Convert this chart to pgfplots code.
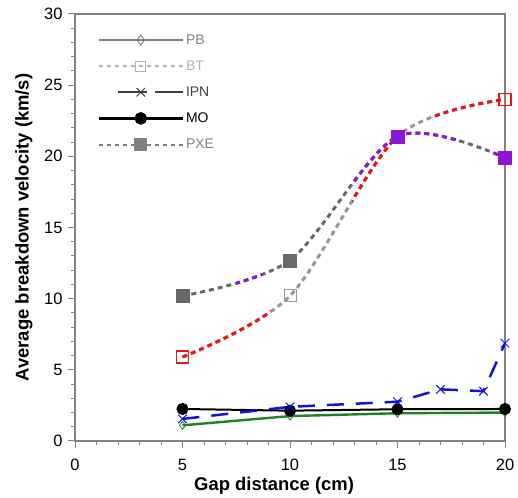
\documentclass[border=0pt]{standalone}
\usepackage{fontspec}
\setmainfont{Liberation Sans}
\usepackage{pgfplots}
\pgfplotsset{compat=1.18}
\definecolor{axgray}{RGB}{130,130,130}
\definecolor{btgray}{RGB}{150,150,150}
\definecolor{pxegray}{RGB}{105,105,105}
\definecolor{myred}{RGB}{235,20,20}
\definecolor{mypurple}{RGB}{140,20,210}
\definecolor{myblue}{RGB}{20,20,210}
\definecolor{mygreen}{RGB}{30,130,40}
\begin{document}
\begin{tikzpicture}
\begin{axis}[
  name=ax,
  scale only axis, width=430bp, height=427bp,
  xmin=0, xmax=20, ymin=0, ymax=30,
  xtick={0,5,...,20}, ytick={0,5,...,30},
  minor x tick num=4, minor y tick num=4,
  tick align=outside, tick pos=left,
  major tick length=7bp, minor tick length=4bp,
  axis line style={axgray, line width=1.5bp},
  every tick/.style={axgray, line width=1bp},
  tick label style={font=\fontsize{16.5}{19}\selectfont},
  xticklabel style={yshift=-8bp},
  yticklabel style={xshift=-2bp},
  /pgf/number format/assume math mode=true,
  xlabel={Gap distance (cm)},
  ylabel={Average breakdown velocity (km/s)},
  label style={font=\fontsize{18.5}{21}\selectfont\bfseries},
  xlabel style={at={(axis description cs:0.463,-0.1054)}, anchor=center},
  ylabel style={at={(axis description cs:-0.1186,0.5)}, anchor=center},
  legend style={draw=none, fill=none, at={(axis cs:0.9,28.85)}, anchor=north west,
    font=\fontsize{14}{16}\selectfont, row sep=11bp},
  legend cell align=left,
  legend image code/.code={\draw[mark repeat=2,mark phase=2,#1] plot coordinates {(0bp,0bp) (42bp,0bp) (84bp,0bp)};},
]
% legend entries (gray styles)
\addlegendimage{color=gray, line width=2bp, mark=diamond, mark size=5bp, mark options={fill=white, line width=1bp}}
\addlegendentry{\textcolor{gray}{PB}}
\addlegendimage{color=lightgray!80!gray, line width=2bp, dash pattern=on 4bp off 4bp, mark=square, mark size=5bp, mark options={solid, fill=white, line width=1bp}}
\addlegendentry{\textcolor{lightgray!80!gray}{BT}}
\addlegendimage{color=darkgray, line width=2bp, dash pattern=on 0bp off 19bp on 29bp off 8bp on 28bp off 100bp, mark=x, mark size=6bp, mark options={solid, line width=1bp}}
\addlegendentry{\textcolor{darkgray}{IPN}}
\addlegendimage{color=black, line width=2.5bp, mark=*, mark size=5bp}
\addlegendentry{MO}
\addlegendimage{color=gray, line width=2bp, dash pattern=on 4bp off 4bp, mark=square*, mark size=5.5bp, mark options={solid, fill=gray}}
\addlegendentry{\textcolor{gray}{PXE}}

% PB
\addplot[mygreen, line width=2.4bp, mark=diamond, mark size=4bp, mark options={fill=white, line width=0.8bp}, forget plot]
  coordinates {(5,1.1) (10,1.75) (15,1.95) (20,2.0)};
% MO
\addplot[black, line width=2bp, mark=*, mark size=5bp, forget plot]
  coordinates {(5,2.25) (10,2.13) (15,2.23) (20,2.25)};
% IPN
\addplot[myblue, line width=2.5bp, dash pattern=on 17bp off 12bp, mark=x, mark size=6bp, mark options={solid, line width=1bp}, forget plot]
  coordinates {(5,1.55) (10,2.4) (15,2.76) (17,3.63) (19,3.5) (20,6.87)};

% BT
\addplot[btgray, smooth, line width=3bp, dash pattern=on 5bp off 4bp, forget plot]
  coordinates {(5,5.9) (10,10.2) (15,21.4) (20,24.0)};
\begin{scope}
\clip (axis cs:4,-1) rectangle (axis cs:9.1,31) (axis cs:12.9,-1) rectangle (axis cs:15,31) (axis cs:16.7,-1) rectangle (axis cs:21,31);
\addplot[myred, smooth, line width=3bp, dash pattern=on 5bp off 4bp, forget plot]
  coordinates {(5,5.9) (10,10.2) (15,21.4) (20,24.0)};
\end{scope}
\addplot[only marks, btgray, mark=square, mark size=6bp, mark options={line width=1bp}, forget plot]
  coordinates {(10,10.2)};

% PXE
\addplot[pxegray, smooth, line width=3bp, dash pattern=on 5bp off 4bp, forget plot]
  coordinates {(5,10.2) (10,12.7) (15,21.4) (20,19.9)};
\begin{scope}
\clip (axis cs:7.5,-1) rectangle (axis cs:8.7,31) (axis cs:12.9,-1) rectangle (axis cs:17.9,31) (axis cs:19.4,-1) rectangle (axis cs:21,31);
\addplot[mypurple, smooth, line width=3bp, dash pattern=on 5bp off 4bp, forget plot]
  coordinates {(5,10.2) (10,12.7) (15,21.4) (20,19.9)};
\end{scope}
\addplot[only marks, pxegray, mark=square*, mark size=6.5bp, forget plot]
  coordinates {(5,10.2) (10,12.7)};
\addplot[only marks, mypurple, mark=square*, mark size=6.5bp, forget plot]
  coordinates {(15,21.4) (20,19.9)};
\addplot[only marks, myred, mark=square, mark size=6bp, mark options={line width=1.2bp}, forget plot]
  coordinates {(5,5.9) (20,24.0)};
\end{axis}
\path ([shift={(-75bp,-56bp)}]ax.south west) rectangle ([shift={(13bp,14bp)}]ax.north east);
\end{tikzpicture}
\end{document}
